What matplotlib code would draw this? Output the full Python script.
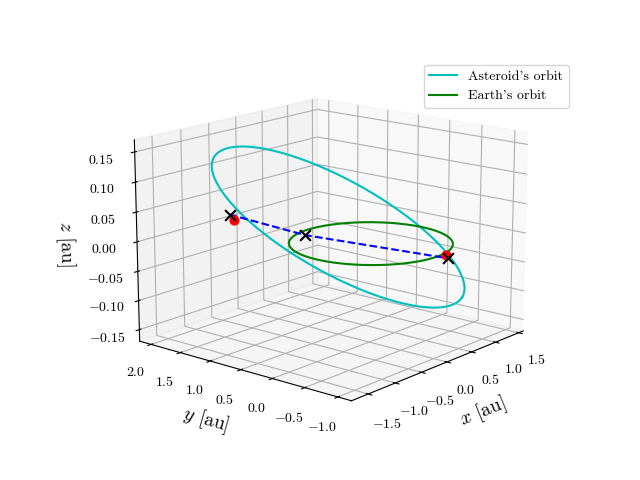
import numpy as np
import matplotlib
matplotlib.use("Agg")
import matplotlib.pyplot as plt

plt.rcParams["font.family"] = "serif"
plt.rcParams["font.serif"] = ["cmr10"]
plt.rcParams["mathtext.fontset"] = "cm"
plt.rcParams["axes.formatter.use_mathtext"] = True

# orbital elements (a [au], e, i [deg], node [deg], peri [deg])
ast_elements = [1.55, 0.25, 4.0, 20.0, 275.0]
earth_elements = [1.0, 0.0167, 0.0, 0.0, 100.0]

# marker positions [au]
cross_x = [-1.05, -0.45, 0.8]
cross_y = [1.35, 0.65, -0.6]
cross_z = [0.045, 0.01, -0.035]
dot_x = [-1.0, 0.78]
dot_y = [1.32, -0.58]
dot_z = [0.035, -0.03]


def orbit(a, e, inc, node, peri):
    nu = np.linspace(0, 2 * np.pi, 400)
    r = a * (1 - e**2) / (1 + e * np.cos(nu))
    i, O, w = np.radians([inc, node, peri])
    u = w + nu
    x = r * (np.cos(O) * np.cos(u) - np.sin(O) * np.sin(u) * np.cos(i))
    y = r * (np.sin(O) * np.cos(u) + np.cos(O) * np.sin(u) * np.cos(i))
    z = r * np.sin(u) * np.sin(i)
    return x, y, z


fig = plt.figure(figsize=(6.4, 4.8), dpi=100)
ax = fig.add_subplot(projection="3d")

ax.plot(*orbit(*ast_elements), color="c", label="Asteroid's orbit")
ax.plot(*orbit(*earth_elements), color="g", label="Earth's orbit")
ax.plot(cross_x, cross_y, cross_z, "b--")
ax.scatter(dot_x, dot_y, dot_z, color="r", s=40, depthshade=False)
ax.scatter(cross_x, cross_y, cross_z, color="k", marker="x", s=60, depthshade=False)

ax.set_xlabel(r"$x$ [au]", fontsize=14)
ax.set_ylabel(r"$y$ [au]", fontsize=14)
ax.set_zlabel(r"$z$ [au]", fontsize=14)
ax.set_xlim(-1.8, 1.6)
ax.set_ylim(-1.2, 2.2)
ax.set_zlim(-0.17, 0.17)
ax.view_init(elev=15, azim=-140)
ax.set_box_aspect(None, zoom=1.16)
ax.legend(loc="upper right", bbox_to_anchor=(1.17, 1.0))

fig.savefig("out.png")
